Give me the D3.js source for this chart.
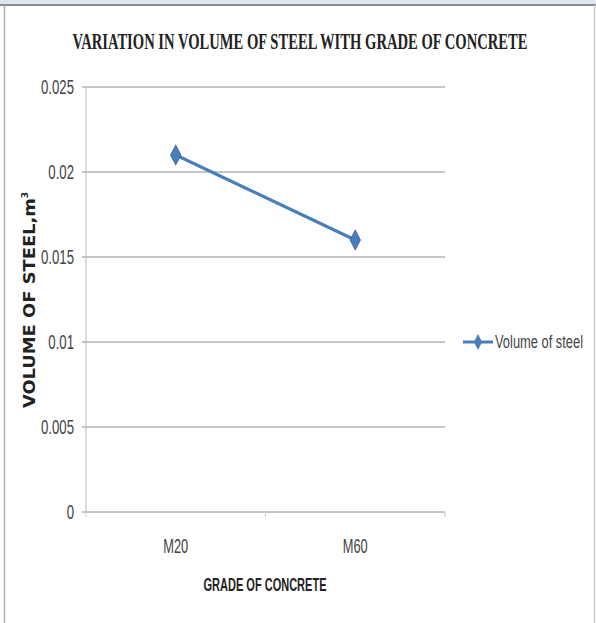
<!DOCTYPE html>
<html><head><meta charset="utf-8">
<script src="https://cdn.jsdelivr.net/npm/d3@7"></script>
<style>body{margin:0;background:#fff}svg{display:block}</style>
</head><body>
<script>
const categories = ["M20", "M60"];
const values = [0.021, 0.016];
const yTicks = [0, 0.005, 0.01, 0.015, 0.02, 0.025];
const yTickLabels = ["0", "0.005", "0.01", "0.015", "0.02", "0.025"];
const seriesName = "Volume of steel";
const title = "VARIATION IN VOLUME OF STEEL WITH GRADE OF CONCRETE";
const xTitle = "GRADE OF CONCRETE";

(function(){
const W = 596, H = 623;
const svg = d3.select("body").append("svg").attr("width", W).attr("height", H);
const narrow = "Liberation Sans, Arial, sans-serif";

// frame
svg.append("rect").attr("x",0).attr("y",0).attr("width",W).attr("height",4).attr("fill","#dfe5ea");
svg.append("line").attr("x1",0).attr("x2",W).attr("y1",5).attr("y2",5).attr("stroke","#8a8a8a").attr("stroke-width",2);
svg.append("line").attr("x1",4.5).attr("x2",4.5).attr("y1",5).attr("y2",H).attr("stroke","#b0b0b0").attr("stroke-width",1.5);
svg.append("line").attr("x1",594.5).attr("x2",594.5).attr("y1",5).attr("y2",H).attr("stroke","#c8c8c8").attr("stroke-width",1.5);

const pl = 86, pr = 445, pt = 87, pb = 512;
const x = d3.scaleBand().domain(categories).range([pl, pr]);
const y = d3.scaleLinear().domain([0, 0.025]).range([pb, pt]);
const cx = d => x(d) + x.bandwidth()/2;

// gridlines
svg.append("g").selectAll("line").data(yTicks).join("line")
  .attr("x1", pl - 4).attr("x2", pr)
  .attr("y1", d => y(d)).attr("y2", d => y(d))
  .attr("stroke", "#8c8c8c").attr("stroke-width", 1);

// y axis line
svg.append("line").attr("x1", pl).attr("x2", pl).attr("y1", pt).attr("y2", pb)
  .attr("stroke", "#b8b8b8").attr("stroke-width", 1);

// x ticks
const xb = [pl, pl + x.bandwidth(), pr];
svg.append("g").selectAll("line").data(xb).join("line")
  .attr("x1", d => d).attr("x2", d => d).attr("y1", pb).attr("y2", pb + 5)
  .attr("stroke", "#c8c8c8");

// y tick labels
svg.append("g").selectAll("text").data(yTicks).join("text")
  .attr("transform", d => `translate(74,${y(d) + 7}) scale(0.66,1)`)
  .attr("text-anchor", "end")
  .attr("font-family", narrow)
  .attr("font-size", 20).attr("fill", "#444")
  .text((d,i) => yTickLabels[i]);

// x tick labels
svg.append("g").selectAll("text").data(categories).join("text")
  .attr("transform", d => `translate(${cx(d)},553) scale(0.64,1)`)
  .attr("text-anchor", "middle")
  .attr("font-family", narrow)
  .attr("font-size", 20).attr("fill", "#444")
  .text(d => d);

// line
const line = d3.line().x((d,i) => cx(categories[i])).y(d => y(d));
svg.append("path").datum(values).attr("d", line)
  .attr("fill", "none").attr("stroke", "#4a7ebb").attr("stroke-width", 3.2);

// diamond markers
const diamond = d3.symbol().type(d3.symbolDiamond).size(90);
svg.append("g").selectAll("path").data(values).join("path")
  .attr("d", diamond)
  .attr("transform", (d,i) => `translate(${cx(categories[i])},${y(d)}) scale(1,1.1)`)
  .attr("fill", "#4a7ebb").attr("stroke", "#3d6ca8");

// title
svg.append("text").attr("x", 300).attr("y", 49)
  .attr("text-anchor", "middle")
  .attr("font-family", "Liberation Serif, Times New Roman, serif")
  .attr("font-weight", "bold").attr("font-size", 24).attr("fill", "#222")
  .attr("textLength", 455).attr("lengthAdjust", "spacingAndGlyphs")
  .text(title);

// x title
svg.append("text").attr("x", 265).attr("y", 591)
  .attr("text-anchor", "middle")
  .attr("font-family", narrow)
  .attr("font-weight", "bold").attr("font-size", 19).attr("fill", "#222")
  .attr("textLength", 123).attr("lengthAdjust", "spacingAndGlyphs")
  .text(xTitle);

// y title
const yt = svg.append("text")
  .attr("transform", "translate(35,300) rotate(-90)")
  .attr("text-anchor", "middle")
  .attr("font-family", "DejaVu Sans, Verdana, sans-serif")
  .attr("font-weight", "bold").attr("font-size", 15).attr("fill", "#222");
yt.append("tspan").attr("textLength", 210).attr("lengthAdjust", "spacingAndGlyphs").text("VOLUME OF STEEL,m");
yt.append("tspan").attr("font-size", 9).attr("dy", -7).text("3");

// legend
const lg = svg.append("g");
lg.append("line").attr("x1", 463).attr("x2", 493).attr("y1", 342).attr("y2", 342)
  .attr("stroke", "#4a7ebb").attr("stroke-width", 3);
lg.append("path").attr("d", diamond).attr("transform", "translate(478,342) scale(0.8,0.9)")
  .attr("fill", "#4a7ebb");
lg.append("text").attr("x", 495).attr("y", 348)
  .attr("font-family", narrow)
  .attr("font-size", 18).attr("fill", "#444")
  .attr("textLength", 88).attr("lengthAdjust", "spacingAndGlyphs")
  .text(seriesName);
})();
</script>
</body></html>
